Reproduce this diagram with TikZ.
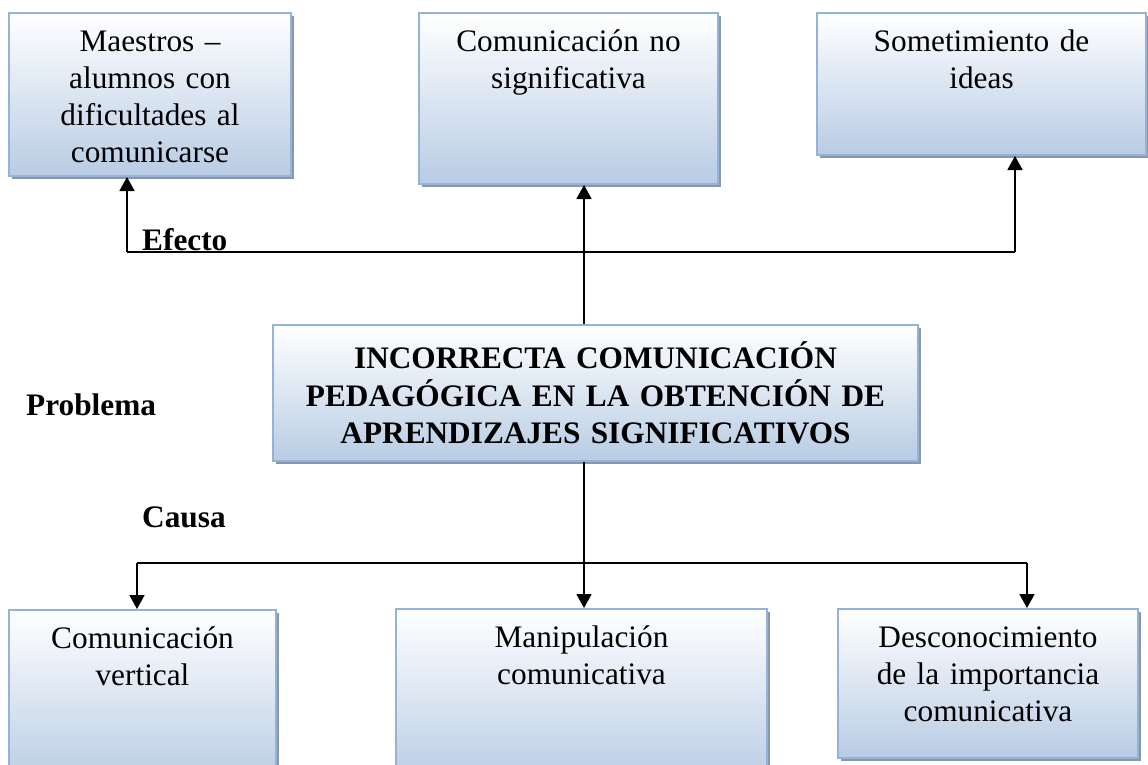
\documentclass[tikz,border=0pt]{standalone}
\usepackage{fontspec}
\setmainfont{Liberation Serif}
\usetikzlibrary{arrows.meta,shadows}
\definecolor{bordercol}{RGB}{149,179,215}
\definecolor{fillcol}{RGB}{184,204,228}
\definecolor{shadowcol}{RGB}{138,150,170}
\tikzset{
  bx/.style={draw=bordercol, line width=2pt, top color=white, bottom color=fillcol,
    inner sep=0pt, anchor=north west,
    general shadow={fill=shadowcol, shadow xshift=3pt, shadow yshift=-3pt}},
  txt/.style={inner sep=0pt, anchor=base, align=center},
  lbl/.style={inner sep=0pt, anchor=base west, font=\fontsize{31.3}{37}\selectfont\bfseries},
  conn/.style={line width=1.8pt, draw=black},
  arr/.style={conn, -{Triangle[width=15pt,length=14pt]}},
  every node/.style={font=\fontsize{31.3}{37}\selectfont}
}
\begin{document}
\begin{tikzpicture}[x=1pt,y=-1pt]
\useasboundingbox (0,0) rectangle (1148,764);
% top boxes
\node[bx, minimum width=282pt, minimum height=163pt] (t1) at (8,12) {};
\node[bx, minimum width=299pt, minimum height=171pt] (t2) at (418,12) {};
\node[bx, minimum width=329pt, minimum height=142pt] (t3) at (816,12) {};
% center box
\node[bx, minimum width=645pt, minimum height=136pt, text width=640pt, align=center,
      font=\fontsize{31.3}{37.5}\selectfont\bfseries] (c) at (272,324)
  {INCORRECTA COMUNICACIÓN\\PEDAGÓGICA EN LA OBTENCIÓN DE\\APRENDIZAJES SIGNIFICATIVOS};
% bottom boxes
\node[bx, minimum width=267pt, minimum height=175pt] (b1) at (8,609) {};
\node[bx, minimum width=371pt, minimum height=175pt] (b2) at (395,608) {};
\node[bx, minimum width=300pt, minimum height=149pt] (b3) at (837,608) {};
% box texts
\node[txt, text width=270pt] (t1x) at ([yshift=-39pt]t1.north) {Maestros –\\alumnos con\\dificultades al\\comunicarse};
\node[txt, text width=290pt] (t2x) at ([yshift=-39pt]t2.north) {Comunicación no\\significativa};
\node[txt, text width=320pt] (t3x) at ([yshift=-39pt]t3.north) {Sometimiento de\\ideas};
\node[txt, text width=260pt] (b1x) at ([yshift=-39pt]b1.north) {Comunicación\\vertical};
\node[txt, text width=360pt] (b2x) at ([yshift=-39pt]b2.north) {Manipulación\\comunicativa};
\node[txt, text width=295pt] (b3x) at ([yshift=-39pt]b3.north) {Desconocimiento\\de la importancia\\comunicativa};
% labels
\node[lbl] (efecto) at (142,250) {Efecto};
\node[lbl] (problema) at (26,415) {Problema};
\node[lbl] (causa) at (142,527) {Causa};
% top connectors
\coordinate (jt) at (584,252);
\coordinate (ht1) at (127,252);
\coordinate (ht3) at (1015,252);
\draw[conn] (ht1) -- (ht3);
\draw[arr] (ht1) -- (ht1 |- t1.south);
\draw[arr] (ht3) -- (ht3 |- t3.south);
\draw[arr] (jt |- c.north) -- (jt |- t2.south);
% bottom connectors
\coordinate (jb) at (584,563);
\coordinate (hb1) at (137,563);
\coordinate (hb3) at (1027,563);
\draw[conn] (hb1) -- (hb3);
\draw[arr] (jb |- c.south) -- (jb |- b2.north);
\draw[arr] (hb1) -- (hb1 |- b1.north);
\draw[arr] (hb3) -- (hb3 |- b3.north);
\end{tikzpicture}
\end{document}
